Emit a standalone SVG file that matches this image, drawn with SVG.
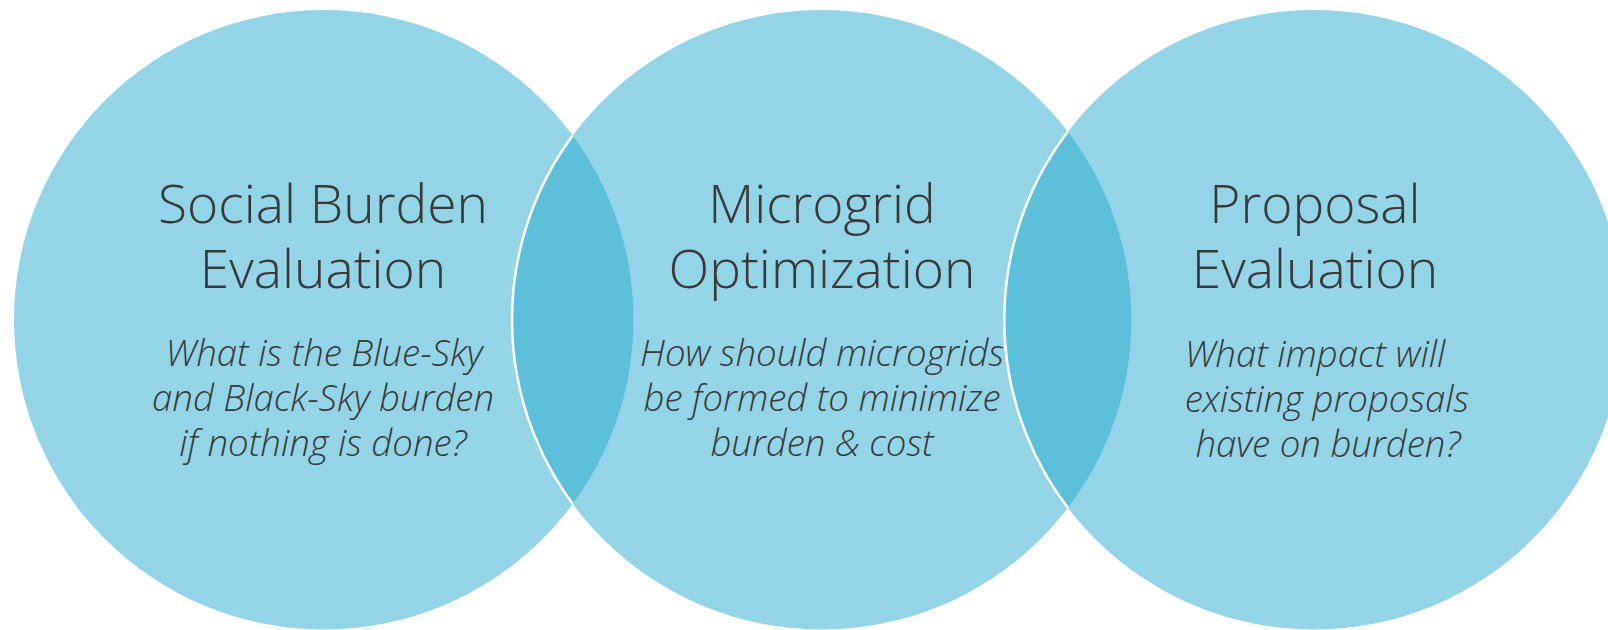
<svg xmlns="http://www.w3.org/2000/svg" width="1608" height="630" viewBox="0 0 1608 630">
  <style>
    .circle { fill: #93D5E6; }
    .lens { fill: #5DBFDA; stroke: #FFFFFF; stroke-width: 2.5; }
    .title { font-family: "Open Sans", "Liberation Sans", sans-serif; font-weight: 300; font-size: 53.3px; fill: #3A3838; text-anchor: middle; }
    .sub { font-family: "Open Sans", "Liberation Sans", sans-serif; font-weight: 300; font-style: italic; font-size: 36.6px; fill: #3A3838; text-anchor: middle; }
  </style>
  <defs>
    <clipPath id="clip-left"><circle cx="323.75" cy="319.75" r="309.75"/></clipPath>
    <clipPath id="clip-middle"><circle cx="821.75" cy="319.75" r="309.75"/></clipPath>
  </defs>
  <rect x="0" y="0" width="1608" height="630" fill="#FFFFFF"/>
  <g id="node-social-burden">
    <circle class="circle" cx="323.75" cy="319.75" r="309.75"/>
  </g>
  <g id="node-microgrid">
    <circle class="circle" cx="821.75" cy="319.75" r="309.75"/>
    <circle class="lens" cx="821.75" cy="319.75" r="309.75" clip-path="url(#clip-left)"/>
  </g>
  <g id="node-proposal">
    <circle class="circle" cx="1314" cy="319.75" r="309.75"/>
    <circle class="lens" cx="1314" cy="319.75" r="309.75" clip-path="url(#clip-middle)"/>
  </g>
  <g id="connectors"/>
  <g id="labels-social-burden">
    <text class="title" x="323" y="223">Social Burden</text>
    <text class="title" x="323" y="288">Evaluation</text>
    <text class="sub" x="324" y="366">What is the Blue-Sky</text>
    <text class="sub" x="323" y="411">and Black-Sky burden</text>
    <text class="sub" x="323" y="456">if nothing is done?</text>
  </g>
  <g id="labels-microgrid">
    <text class="title" x="822" y="223">Microgrid</text>
    <text class="title" x="822" y="288">Optimization</text>
    <text class="sub" x="822" y="366">How should microgrids</text>
    <text class="sub" x="822" y="411">be formed to minimize</text>
    <text class="sub" x="822" y="456">burden &amp; cost</text>
  </g>
  <g id="labels-proposal">
    <text class="title" x="1315" y="223">Proposal</text>
    <text class="title" x="1315" y="288">Evaluation</text>
    <text class="sub" x="1315" y="367">What impact will</text>
    <text class="sub" x="1327" y="412">existing proposals</text>
    <text class="sub" x="1328" y="457">have on burden?</text>
  </g>
</svg>
